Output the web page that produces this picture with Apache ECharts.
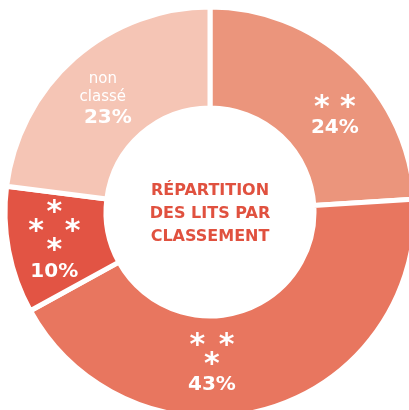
<!DOCTYPE html>
<html>
<head>
<meta charset="utf-8">
<script src="https://cdn.jsdelivr.net/npm/echarts@6/dist/echarts.min.js"></script>
<style>html,body{margin:0;padding:0;background:#fff}#c{width:409px;height:410px}</style>
</head>
<body>
<div id="c"></div>
<script>
// Data
const categories = ['**', '***', '****', 'non classé'];
const values = [24, 43, 10, 23];
const starLines = [['* *'], ['* \u200A*', '*'], ['*', '*  *', '*'], null];
const textLines = [null, null, null, ['non', 'classé']];
const colors = ['#EB957C', '#E8765F', '#E25444', '#F5C5B5'];
const centerTitle = ['RÉPARTITION', 'DES LITS PAR', 'CLASSEMENT'];
const labelShift = [[17, 19], [-42, 0], [-1, -1], [-3, 6]];

const chart = echarts.init(document.getElementById('c'));
chart.setOption({
  animation: false,
  title: {
    text: centerTitle.join('\n'),
    left: 210, top: 214, textAlign: 'center', textVerticalAlign: 'middle', padding: 0,
    textStyle: { color: '#E0513F', fontFamily: 'DejaVu Sans', fontWeight: 'bold', fontSize: 16, lineHeight: 23 }
  },
  series: [{
    type: 'pie',
    center: [210, 212],
    radius: [104, 205],
    startAngle: 90,
    clockwise: true,
    silent: true,
    itemStyle: { borderColor: '#fff', borderWidth: 5 },
    label: {
      show: true,
      position: 'inside',
      formatter: function (p) {
        const i = p.dataIndex;
        let s = [];
        if (starLines[i]) starLines[i].forEach(l => s.push('{star|' + l + '}'));
        if (textLines[i]) textLines[i].forEach(l => s.push('{txt|' + l + '}'));
        s.push((textLines[i] ? '{pct2|' : '{pct|') + p.value + '%}');
        return s.join('\n');
      },
      rich: {
        star: { color: '#fff', fontFamily: 'DejaVu Sans', fontWeight: 'bold', fontSize: 30, lineHeight: 19, align: 'center', padding: [8, 0, 0, 0] },
        txt: { color: '#fff', fontFamily: 'DejaVu Sans', fontSize: 15, lineHeight: 18, align: 'center' },
        pct: { color: '#fff', fontFamily: 'DejaVu Sans', fontWeight: 'bold', fontSize: 20, lineHeight: 24, align: 'center', padding: [5, 0, 0, 0] },
        pct2: { color: '#fff', fontFamily: 'DejaVu Sans', fontWeight: 'bold', fontSize: 20, lineHeight: 24, align: 'center', padding: [0, 0, 0, 10] }
      }
    },
    labelLine: { show: false },
    labelLayout: function (p) {
      const d = labelShift[p.dataIndex];
      return { dx: d[0], dy: d[1] };
    },
    data: categories.map((c, i) => ({ name: c, value: values[i], itemStyle: { color: colors[i] } }))
  }]
});
</script>
</body>
</html>
